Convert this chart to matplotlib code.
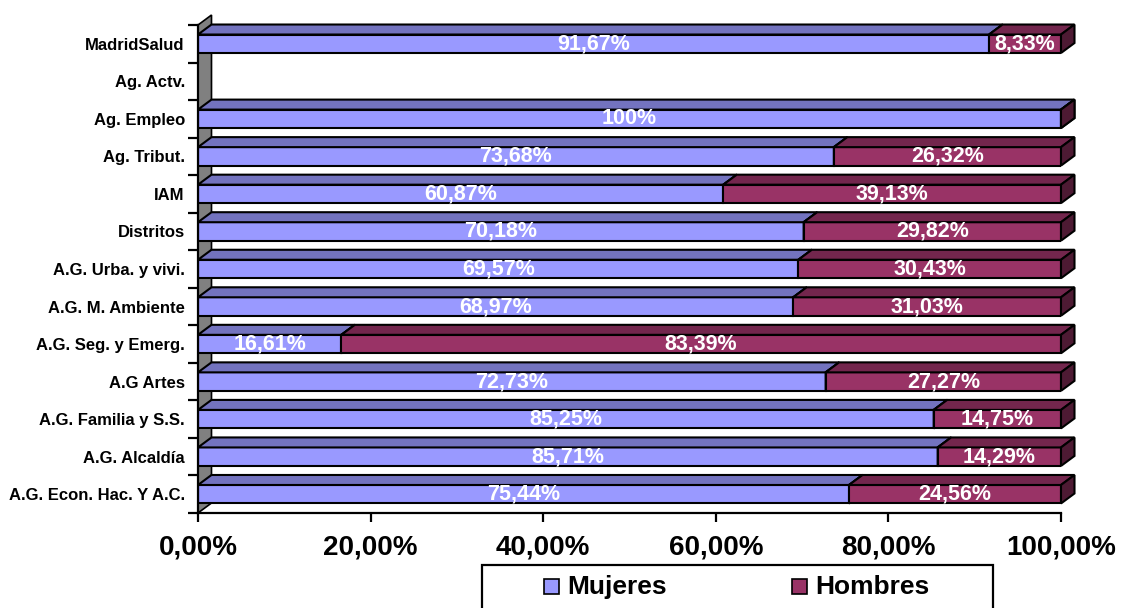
import matplotlib
matplotlib.use("Agg")
import matplotlib.pyplot as plt
from matplotlib.patches import Polygon, Rectangle
import numpy as np

plt.rcParams['font.family'] = ['Liberation Sans', 'DejaVu Sans']

categories = ["MadridSalud", "Ag. Actv.", "Ag. Empleo", "Ag. Tribut.", "IAM", "Distritos",
              "A.G. Urba. y vivi.", "A.G. M. Ambiente", "A.G. Seg. y Emerg.", "A.G Artes",
              "A.G. Familia y S.S.", "A.G. Alcaldía", "A.G. Econ. Hac. Y A.C."]
mujeres = [91.67, 0, 100, 73.68, 60.87, 70.18, 69.57, 68.97, 16.61, 72.73, 85.25, 85.71, 75.44]
hombres = [8.33, 0, 0, 26.32, 39.13, 29.82, 30.43, 31.03, 83.39, 27.27, 14.75, 14.29, 24.56]
series_names = ["Mujeres", "Hombres"]
xticks = [0, 20, 40, 60, 80, 100]

W, Hpx = 1122, 608
fig = plt.figure(figsize=(W / 100, Hpx / 100), dpi=100)
ax = fig.add_axes([198 / W, 95 / Hpx, 863 / W, 488 / Hpx])
n = len(categories)
ax.set_xlim(0, 100)
ax.set_ylim(-0.5, n - 0.5)

xpp = 100 / 863.0
ypp = n / 488.0
DX = 13.5 * xpp
DY = 10 * ypp
BH = 18.5 * ypp

front_cols = ["#9999FF", "#993366"]
top_cols = ["#7373BF", "#73264D"]
side_cols = ["#4D4D80", "#4D1A33"]
lw = 1.5

def fmt(v):
    s = f"{v:.2f}".rstrip('0').rstrip('.')
    return s.replace('.', ',') + '%'

# back-left wall
wall = Polygon([(0, -0.5), (DX, -0.5 + DY), (DX, n - 0.5 + DY), (0, n - 0.5)],
               closed=True, facecolor="#808080", edgecolor="black", lw=1.2,
               clip_on=False, zorder=1)
ax.add_patch(wall)

ypos = np.array([n - 1 - i for i in range(n)], dtype=float)
for i in range(n):
    y = ypos[i]
    vals = [mujeres[i], hombres[i]]
    if sum(vals) == 0:
        continue
    left = 0.0
    for s, v in enumerate(vals):
        z = 3 + s
        ax.barh(y, v, left=left, height=BH, color=front_cols[s], edgecolor="black",
                lw=lw, zorder=z)
        yt = y + BH / 2
        yb = y - BH / 2
        r = left + v
        top = Polygon([(left, yt), (left + DX, yt + DY), (r + DX, yt + DY), (r, yt)],
                      closed=True, facecolor=top_cols[s], edgecolor="black", lw=lw,
                      clip_on=False, zorder=z)
        side = Polygon([(r, yb), (r, yt), (r + DX, yt + DY), (r + DX, yb + DY)],
                       closed=True, facecolor=side_cols[s], edgecolor="black", lw=lw,
                       clip_on=False, zorder=z)
        ax.add_patch(top)
        ax.add_patch(side)
        if v > 0:
            ax.text(left + v / 2, y, fmt(v), ha="center", va="center", color="white",
                    fontsize=15.5, fontweight="bold", zorder=10)
        left = r

# axes styling
for sp in ["top", "right"]:
    ax.spines[sp].set_visible(False)
ax.spines["left"].set_linewidth(1.6)
ax.spines["bottom"].set_linewidth(1.6)
ax.spines["left"].set_zorder(6)
ax.spines["bottom"].set_zorder(6)
ax.set_xticks(xticks)
ax.set_xticklabels([f"{v:.2f}".replace('.', ',') + '%' for v in xticks],
                   fontsize=20, fontweight="bold")
ax.tick_params(axis="x", direction="out", length=6.5, width=1.6, pad=9)
ax.set_yticks(ypos)
ax.set_yticklabels(categories, fontsize=12, fontweight="bold")
ax.tick_params(axis="y", which="major", length=0, pad=9.5)
ax.set_yticks(np.arange(-0.5, n, 1.0), minor=True)
ax.tick_params(axis="y", which="minor", direction="out", length=7.2, width=1.6)
ax.patch.set_alpha(0)

# legend (overlay in pixel coordinates)
ov = fig.add_axes([0, 0, 1, 1], zorder=20)
ov.set_xlim(0, W)
ov.set_ylim(Hpx, 0)
ov.axis("off")
ov.add_patch(Rectangle((482, 565), 993 - 482, 60, facecolor="white", edgecolor="black", lw=1.6))
leg_x = [544, 792]
for s, name in enumerate(series_names):
    ov.add_patch(Rectangle((leg_x[s], 579), 15, 15, facecolor=front_cols[s], edgecolor="black", lw=1.2))
    ov.text(leg_x[s] + 23, 587, name, ha="left", va="center", fontsize=19, fontweight="bold")

fig.savefig("out.png", dpi=100)
